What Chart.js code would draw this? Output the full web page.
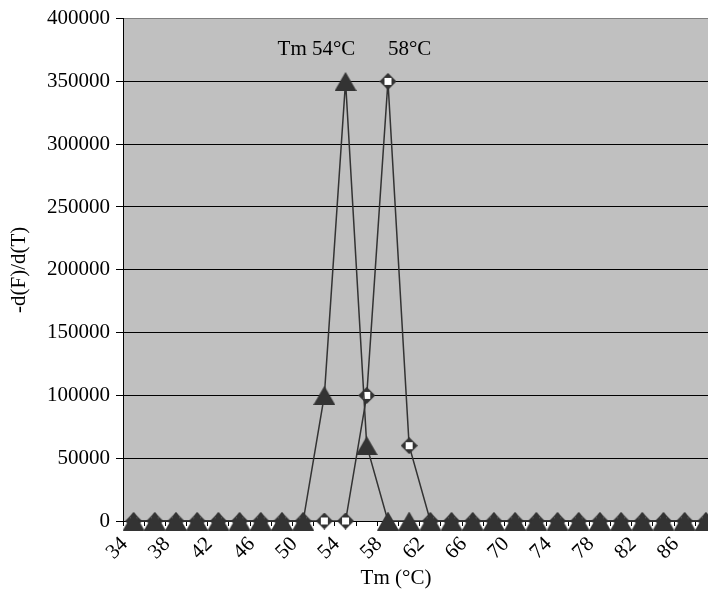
<!DOCTYPE html>
<html>
<head>
<meta charset="utf-8">
<script src="https://cdn.jsdelivr.net/npm/chart.js@4.4.1/dist/chart.umd.min.js"></script>
<style>
  html, body { margin: 0; padding: 0; background: #fff; }
  #wrap { width: 708px; height: 589px; }
</style>
</head>
<body>
<div id="wrap"><canvas id="chart" width="708" height="589"></canvas></div>
<script>
// temperatures (°C), one point every 2 degrees
const temps = [34, 36, 38, 40, 42, 44, 46, 48, 50, 52, 54, 56, 58, 60,
               62, 64, 66, 68, 70, 72, 74, 76, 78, 80, 82, 84, 86, 88];
// -d(F)/d(T) for the two products
const tm54 = [0, 0, 0, 0, 0, 0, 0, 0, 0, 100000, 350000, 60000, 0, 0,
              0, 0, 0, 0, 0, 0, 0, 0, 0, 0, 0, 0, 0, 0];
const tm58 = [0, 0, 0, 0, 0, 0, 0, 0, 0, 0, 0, 100000, 350000, 60000,
              0, 0, 0, 0, 0, 0, 0, 0, 0, 0, 0, 0, 0, 0];
const xTickLabels = [34, 38, 42, 46, 50, 54, 58, 62, 66, 70, 74, 78, 82, 86];
const yTicks = [0, 50000, 100000, 150000, 200000, 250000, 300000, 350000, 400000];
const peakLabels = ['Tm 54°C', '58°C'];

const FONT = '"Liberation Serif", "Times New Roman", serif';
const DARK = '#333333';

// marker images
const makeTriangle = () => {
    const c = document.createElement('canvas');
    c.width = 22; c.height = 19;
    const g = c.getContext('2d');
    g.fillStyle = DARK;
    g.beginPath();
    g.moveTo(11, 0);
    g.lineTo(22, 19);
    g.lineTo(0, 19);
    g.closePath();
    g.fill();
    return c;
};
const makeDiamond = () => {
    const c = document.createElement('canvas');
    c.width = 17; c.height = 17;
    const g = c.getContext('2d');
    g.fillStyle = DARK;
    g.beginPath();
    g.moveTo(8.5, 0);
    g.lineTo(17, 8.5);
    g.lineTo(8.5, 17);
    g.lineTo(0, 8.5);
    g.closePath();
    g.fill();
    g.fillStyle = '#fff';
    g.fillRect(5, 5, 7, 7);
    return c;
};

const plotBg = {
    id: 'plotBg',
    beforeDraw(chart) {
        const { ctx, chartArea: a } = chart;
        ctx.save();
        ctx.fillStyle = '#c0c0c0';
        ctx.fillRect(a.left, a.top, a.right - a.left, a.bottom - a.top);
        ctx.restore();
    }
};

const texts = {
    id: 'texts',
    afterDraw(chart) {
        const { ctx, chartArea: a } = chart;
        const xs = chart.scales.x, ys = chart.scales.y;
        ctx.save();
        ctx.fillStyle = '#000';
        ctx.font = '21px ' + FONT;
        ctx.textBaseline = 'alphabetic';
        ctx.textAlign = 'left';
        const top = ys.getPixelForValue(400000);
        ctx.fillText(peakLabels[0], xs.getPixelForValue(54) - 68, top + 36);
        ctx.fillText(peakLabels[1], xs.getPixelForValue(58), top + 36);
        // axis titles
        ctx.textAlign = 'center';
        ctx.fillText('Tm (°C)', 396, 584);
        ctx.translate(19, (a.top + a.bottom) / 2);
        ctx.rotate(-Math.PI / 2);
        ctx.textBaseline = 'middle';
        ctx.fillText('-d(F)/d(T)', 0, 0);
        ctx.restore();
    }
};

const toPoints = (vals) => temps.map((t, i) => ({ x: t, y: vals[i] }));

new Chart(document.getElementById('chart'), {
    type: 'line',
    data: {
        datasets: [
            {
                label: 'Tm 54',
                data: toPoints(tm54),
                borderColor: DARK,
                borderWidth: 1.5,
                pointStyle: makeTriangle(),
                clip: false
            },
            {
                label: 'Tm 58',
                data: toPoints(tm58),
                borderColor: DARK,
                borderWidth: 1.5,
                pointStyle: makeDiamond(),
                clip: false
            }
        ]
    },
    options: {
        responsive: false,
        animation: false,
        events: [],
        layout: { autoPadding: false, padding: { top: 16, right: 0, left: 0, bottom: 0 } },
        plugins: {
            legend: { display: false },
            tooltip: { enabled: false }
        },
        elements: { line: { tension: 0 } },
        scales: {
            x: {
                type: 'linear',
                min: 33,
                max: 88.2,
                afterBuildTicks: (scale) => {
                    const t = [];
                    for (let v = 33; v <= 88; v++) t.push({ value: v });
                    scale.ticks = t;
                },
                afterFit: (scale) => {
                    scale.height = 68;
                    scale.paddingLeft = 0;
                    scale.paddingRight = 0;
                },
                grid: {
                    drawOnChartArea: false,
                    tickLength: 5,
                    tickColor: (ctx) => (ctx.tick && ctx.tick.value % 2 === 1) ? '#000' : 'rgba(0,0,0,0)'
                },
                border: { color: '#000', width: 1 },
                ticks: {
                    autoSkip: false,
                    maxRotation: 45,
                    minRotation: 45,
                    padding: 6,
                    labelOffset: -9,
                    color: '#000',
                    font: { family: FONT, size: 21 },
                    callback: (v) => xTickLabels.includes(v) ? String(v) : ''
                }
            },
            y: {
                min: 0,
                max: 400000,
                afterBuildTicks: (scale) => {
                    scale.ticks = yTicks.map(v => ({ value: v }));
                },
                afterFit: (scale) => { scale.width = 123; },
                grid: {
                    color: (ctx) => (ctx.tick && ctx.tick.value === 400000) ? '#808080' : '#000',
                    tickColor: '#000',
                    tickLength: 7,
                    lineWidth: 1
                },
                border: { color: '#000', width: 1 },
                ticks: {
                    padding: 6,
                    color: '#000',
                    font: { family: FONT, size: 21 },
                    callback: (v) => String(v)
                }
            }
        }
    },
    plugins: [plotBg, texts]
});
</script>
</body>
</html>
